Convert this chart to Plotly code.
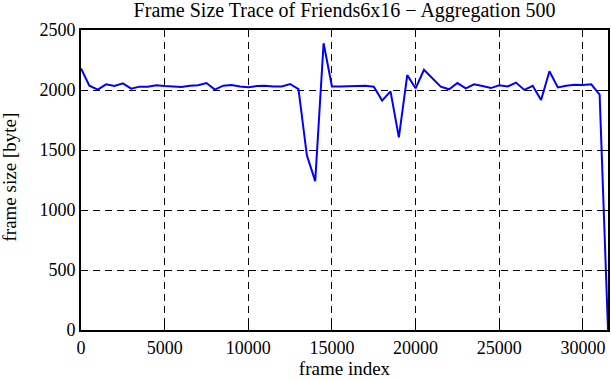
import plotly.graph_objects as go

# aggregated frame size, one value per 500 frames
frame_index = [i * 500 for i in range(64)]
frame_size = [
    2179, 2036, 2003, 2047, 2033, 2055, 2011, 2028, 2028, 2039,
    2033, 2030, 2025, 2036, 2039, 2058, 2003, 2036, 2041, 2030,
    2022, 2033, 2036, 2030, 2030, 2050, 2008, 1456, 1241, 2390,
    2030, 2030, 2033, 2030, 2036, 2028, 1912, 1989, 1605, 2124,
    2014, 2168, 2094, 2028, 2006, 2058, 2014, 2047, 2034, 2016,
    2039, 2029, 2062, 2001, 2035, 1917, 2156, 2022, 2036, 2044,
    2042, 2047, 1961, 0,
]
x_ticks = [0, 5000, 10000, 15000, 20000, 25000, 30000]
x_tick_labels = ["0", "5000", "10000", "15000", "20000", "25000", "30000"]
y_ticks = [0, 500, 1000, 1500, 2000, 2500]
y_tick_labels = ["0", "500", "1000", "1500", "2000", "2500"]

FONT = "Liberation Serif"

fig = go.Figure()
fig.add_trace(go.Scatter(
    x=frame_index, y=frame_size, mode="lines",
    line=dict(color="rgb(0,0,255)", width=2),
    showlegend=False,
))

axis_common = dict(
    showline=True, linecolor="black", linewidth=2, mirror="ticks",
    ticks="inside", ticklen=6, tickcolor="black", tickwidth=1,
    showgrid=True, gridcolor="black", gridwidth=1, griddash="7px,5px",
    zeroline=False, automargin=False,
    tickfont=dict(family=FONT, size=18, color="black"),
)

fig.update_xaxes(
    range=[0, 31500], tickvals=x_ticks, ticktext=x_tick_labels,
    title=dict(text="frame index", font=dict(family=FONT, size=19, color="black"), standoff=0),
    **axis_common,
)
fig.update_yaxes(
    range=[0, 2500], tickvals=y_ticks, ticktext=y_tick_labels,
    **axis_common,
)

fig.update_layout(
    width=611, height=380,
    margin=dict(l=81, r=3, t=30, b=50),
    paper_bgcolor="white", plot_bgcolor="white",
    title=dict(
        text="Frame Size Trace of Friends6x16 \u2212 Aggregation 500",
        font=dict(family=FONT, size=20, color="black"),
        x=0.5, xref="paper", xanchor="center",
        y=1 - 10 / 380, yref="container", yanchor="middle",
    ),
    annotations=[dict(
        text="frame size [byte]", textangle=-90, showarrow=False,
        xref="paper", yref="paper", x=(8.5 - 81) / 527, y=0.51,
        xanchor="center", yanchor="middle",
        font=dict(family=FONT, size=19, color="black"),
    )],
)

fig.write_html(
    "out.html",
    config={"displayModeBar": False},
    post_script="document.body.style.margin='0';document.body.style.padding='0';",
)
